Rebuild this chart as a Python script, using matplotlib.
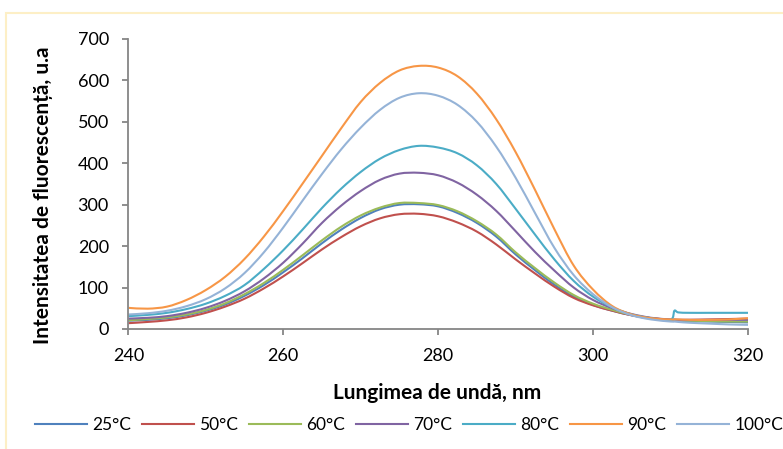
import matplotlib
matplotlib.use("Agg")
import numpy as np
import matplotlib.pyplot as plt
from matplotlib.patches import Rectangle, PathPatch
from matplotlib.path import Path
from matplotlib.lines import Line2D

plt.rcParams['font.family'] = ['Lato', 'DejaVu Sans']

# wavelength grid, nm
wl = [240, 242.5, 245, 247.5, 250, 252.5, 255, 257.5, 260, 262.5, 265, 267.5,
      270, 272.5, 275, 277.5, 280, 282.5, 285, 287.5, 290, 292.5, 295, 297.5,
      300, 302.5, 305, 307.5, 310, 310.5, 311, 312.5, 315, 317.5, 320]

# fluorescence intensity, a.u.
i_25 = [20, 22, 26, 33, 44, 59, 80, 106, 137, 171, 207, 240,
        268, 289, 300, 301, 296, 280, 256, 223, 180, 142, 107, 78,
        58, 44, 33, 25, 21, 20, 20, 19, 18, 17, 16]
i_50 = [14, 17, 21, 28, 39, 54, 73, 98, 127, 159, 192, 222,
        248, 267, 277, 278, 272, 257, 235, 204, 168, 134, 102, 75,
        57, 44, 33, 26, 22, 22, 22, 22, 23, 24, 25]
i_60 = [21, 24, 28, 35, 46, 62, 84, 111, 143, 178, 214, 247,
        274, 293, 304, 304, 299, 284, 260, 228, 185, 147, 112, 82,
        61, 46, 34, 26, 22, 21, 21, 20, 19, 18, 18]
i_70 = [25, 27, 31, 39, 51, 68, 91, 122, 160, 206, 256, 298,
        333, 360, 375, 377, 371, 353, 324, 285, 236, 186, 141, 100,
        70, 50, 36, 27, 23, 23, 22, 22, 22, 22, 22]
i_80 = [31, 34, 39, 48, 61, 80, 106, 145, 190, 240, 292, 339,
        379, 411, 432, 442, 438, 424, 395, 350, 290, 228, 168, 116,
        78, 52, 35, 26, 22, 44, 40, 39, 39, 39, 39]
i_90 = [51, 49, 54, 70, 94, 126, 169, 223, 285, 351, 418, 485,
        548, 594, 624, 635, 631, 610, 568, 506, 427, 336, 241, 153,
        95, 55, 35, 26, 23, 23, 23, 22, 22, 23, 26]
i_100 = [35, 38, 44, 55, 72, 98, 135, 185, 245, 310, 374, 434,
         486, 529, 558, 569, 563, 541, 500, 440, 365, 280, 196, 130,
         84, 52, 33, 23, 18, 18, 17, 15, 13, 11, 10]

labels = ['25°C', '50°C', '60°C', '70°C', '80°C', '90°C', '100°C']
series = [i_25, i_50, i_60, i_70, i_80, i_90, i_100]
colors = ['#4F81BD', '#C0504D', '#9BBB59', '#8064A2', '#4BACC6', '#F79646', '#95B3D7']


def smooth_path(x, y):
    # cubic bezier through every point (catmull-rom style tangents)
    p = np.column_stack([x, y]).astype(float)
    verts = [p[0]]
    codes = [Path.MOVETO]
    n = len(p)
    for k in range(n - 1):
        p0 = p[k - 1] if k > 0 else p[k]
        p1, p2 = p[k], p[k + 1]
        p3 = p[k + 2] if k + 2 < n else p[k + 1]
        verts += [p1 + (p2 - p0) / 6, p2 - (p3 - p1) / 6, p2]
        codes += [Path.CURVE4] * 3
    return Path(verts, codes)


fig = plt.figure(figsize=(7.83, 4.49), dpi=100)
ax = fig.add_axes([0.1639, 0.2673, 0.7914, 0.6459])

handles = []
for y, lab, c in zip(series, labels, colors):
    ax.add_patch(PathPatch(smooth_path(wl, y), fill=False, edgecolor=c,
                           lw=1.5, joinstyle='round', capstyle='butt'))
    handles.append(Line2D([], [], color=c, lw=1.5, label=lab))

ax.set_xlim(240, 320)
ax.set_ylim(0, 700)
ax.set_xticks([240, 260, 280, 300, 320])
ax.set_yticks(range(0, 701, 100))

for s in ['top', 'right']:
    ax.spines[s].set_visible(False)
for s in ['left', 'bottom']:
    ax.spines[s].set_color('#868686')
    ax.spines[s].set_linewidth(1.3)
ax.tick_params(axis='both', direction='out', length=4, width=1.3,
               color='#868686', labelsize=13, labelcolor='black')
ax.tick_params(axis='y', pad=10)
ax.tick_params(axis='x', pad=10)

fig.text(0.055, 0.566, 'Intensitatea de fluorescență, u.a', rotation=90,
         ha='center', va='center', fontsize=15, fontweight='bold')
fig.text(0.558, 0.125, 'Lungimea de undă, nm', ha='center', va='center',
         fontsize=15, fontweight='bold')

fig.legend(handles=handles, loc='center left', bbox_to_anchor=(0.045, 0.054),
           ncol=7, frameon=False, fontsize=12.5, handlelength=3.0,
           handletextpad=0.3, columnspacing=0.615, borderpad=0, borderaxespad=0)

# chart area border
fig.patches.append(Rectangle((5.5 / 783, -0.1), 1.2, (449 - 13) / 449 + 0.1,
                             transform=fig.transFigure, fill=False,
                             edgecolor='#FDEFC6', lw=1.5))

fig.savefig('out.png', dpi=100)
